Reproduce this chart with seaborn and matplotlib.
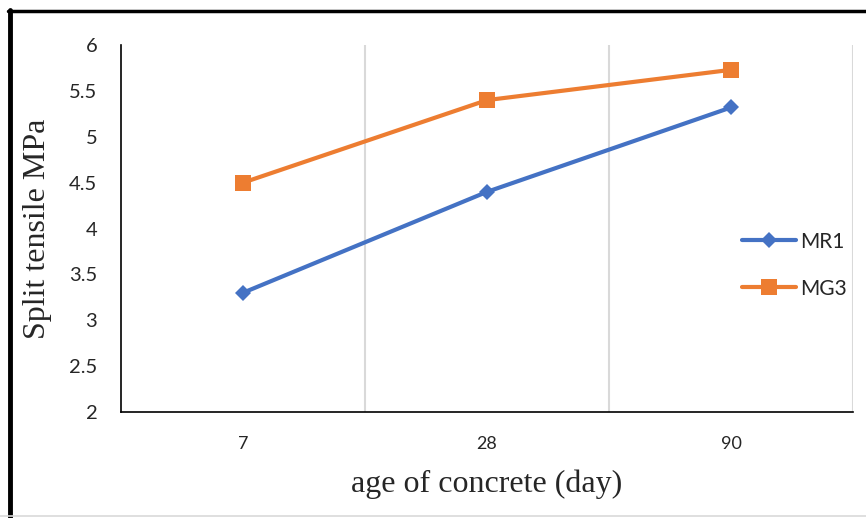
import seaborn as sns
import matplotlib.pyplot as plt
import pandas as pd
from matplotlib.lines import Line2D

# Data
ages = ['7', '28', '90']
mr1 = [3.3, 4.4, 5.32]
mg3 = [4.5, 5.4, 5.73]
y_ticks = [2, 2.5, 3, 3.5, 4, 4.5, 5, 5.5, 6]

df = pd.DataFrame({
    'age': ages * 2,
    'value': mr1 + mg3,
    'mix': ['MR1'] * 3 + ['MG3'] * 3,
})

sns.set_style("white")
plt.rcParams['font.family'] = ['Lato', 'DejaVu Sans']

fig = plt.figure(figsize=(8.66, 5.18), dpi=100)
ax = fig.add_axes([0.1397, 0.2046, 0.8453, 0.7084])

colors = {'MR1': '#4472C4', 'MG3': '#ED7D31'}
markers = {'MR1': 'D', 'MG3': 's'}
sizes = {'MR1': 8, 'MG3': 11}

for mix in ['MR1', 'MG3']:
    sub = df[df['mix'] == mix]
    sns.lineplot(data=sub, x='age', y='value', ax=ax, color=colors[mix],
                 marker=markers[mix], markersize=sizes[mix], linewidth=3,
                 markeredgewidth=0, label=mix, sort=False)

# Category axis with gridlines between categories
ax.set_xlim(-0.5, 2.5)
ax.set_ylim(2, 6)
ax.set_yticks(y_ticks)
ax.set_yticklabels([f'{t:g}' for t in y_ticks], fontsize=14.5)
ax.set_xticks(range(len(ages)))
ax.set_xticklabels(ages, fontsize=13)
ax.set_xticks([0.5, 1.5, 2.5], minor=True)
ax.grid(False)
ax.grid(True, which='minor', axis='x', color='#d9d9d9', linewidth=1.5)
ax.tick_params(axis='both', which='both', length=0)
ax.tick_params(axis='y', pad=17)
ax.tick_params(axis='x', pad=17)

for side in ['top', 'right']:
    ax.spines[side].set_visible(False)
for side in ['left', 'bottom']:
    ax.spines[side].set_color('black')
    ax.spines[side].set_linewidth(1.2)

ax.set_xlabel('age of concrete (day)', family='Liberation Serif',
              fontsize=23, labelpad=13)
ax.set_ylabel('Split tensile MPa', family='Liberation Serif',
              fontsize=23, labelpad=12)

ax.legend(loc='center', bbox_to_anchor=(0.92, 0.40), frameon=False,
          fontsize=15, handlelength=2.6, labelspacing=1.3, handletextpad=0.2)

# Frame of the figure: thick black left/top, light grey bottom
fig.add_artist(Line2D([0.0115, 0.0115], [0.0, 0.981], color='black',
                      linewidth=3.5, transform=fig.transFigure))
fig.add_artist(Line2D([0.0095, 1.0], [0.979, 0.979], color='black',
                      linewidth=2.5, transform=fig.transFigure))
fig.add_artist(Line2D([0.0, 1.0], [0.004, 0.004], color='#d9d9d9',
                      linewidth=1.2, transform=fig.transFigure))

plt.savefig('out.png', dpi=100)
